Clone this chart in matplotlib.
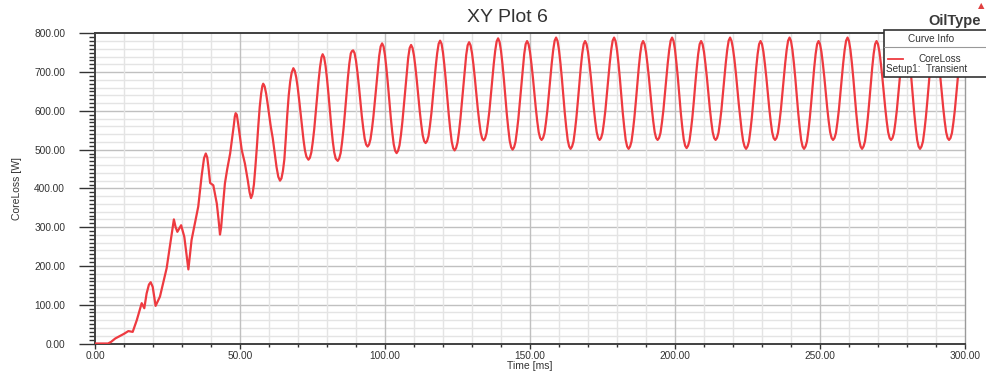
import numpy as np
import matplotlib
matplotlib.use("Agg")
import matplotlib.pyplot as plt
from matplotlib.ticker import MultipleLocator, FormatStrFormatter
from matplotlib.patches import Rectangle
from matplotlib.lines import Line2D

plt.rcParams['font.family'] = ['Liberation Sans', 'DejaVu Sans']

# ---- data ----
# start-up transient, irregular sampling (ms, W)
t_early = [0, 4.5, 5.5, 7, 8.5, 10, 11.5, 13, 14.4, 16.1, 17, 17.8, 18.6, 19.2, 19.9, 20.9,
           22.4, 24.7, 26, 27.2, 27.8, 28.4, 29.7, 30.8, 32.2, 33.3, 35.6, 36.8, 37.6, 38.2,
           38.7, 39.1, 39.7, 40.8, 42, 42.6, 43.1, 43.5, 44, 44.8, 45.6, 46.6, 47.3, 47.9,
           48.2, 48.5, 48.9, 49.4, 50.6, 51.7, 52.7, 53.3, 53.8, 54.3, 54.8, 55.3, 55.8,
           56.3, 56.8, 57.3, 57.7, 58, 58.5, 59, 59.5, 60, 60.6, 61.3, 62, 62.6, 63.2, 63.8,
           64.3, 64.8, 65.3, 65.8, 66.3, 66.8, 67.3, 67.8, 68.4, 68.9, 69.4, 69.9, 70.4,
           70.9, 71.4, 71.9, 72.4, 72.9, 73.6, 74.1, 74.6, 75.1, 75.6, 76.1, 76.6, 77.1,
           77.6, 78.1, 78.5, 79, 79.5, 80, 80.5, 81, 81.5, 82, 82.5, 83, 83.7, 84.2, 84.7,
           85.2, 85.7, 86.2, 86.7, 87.2, 87.7, 88.2, 88.6]
v_early = [0, 0, 4, 13, 19, 25, 32, 30, 60, 104, 91, 129, 152, 158, 146, 97,
           121, 194, 260, 320, 300, 288, 305, 275, 191, 267, 353, 434, 478, 490,
           480, 456, 414, 408, 361, 320, 281, 300, 345, 413, 450, 490, 530, 565,
           585, 594, 590, 565, 499, 464, 420, 390, 375, 385, 410, 455, 505,
           560, 610, 645, 664, 670, 663, 645, 620, 592, 560, 529, 490, 455, 430, 420,
           426, 445, 475, 530, 590, 640, 675, 698, 710, 703, 686, 660, 628,
           593, 557, 525, 498, 482, 474, 479, 493, 520, 553, 594, 637, 678,
           713, 738, 746, 738, 716, 683, 644, 600, 558, 521, 493, 477, 471, 477, 491,
           519, 554, 596, 642, 685, 722, 748, 754]

# steady oscillation, sampled every 0.5 ms from 89 ms to 300 ms (W)
v_late = [756,
          749, 729, 699, 664, 625, 587, 555, 528, 513, 508,   # 89.5-94
          513, 527, 553, 585, 625, 668, 708, 742, 766, 774,   # 94.5-99
          766, 743, 709, 669, 624, 582, 545, 514, 497, 491,   # 99.5-104
          497, 511, 538, 572, 614, 658, 700, 737, 762, 770,   # 104.5-109
          762, 742, 712, 676, 636, 598, 565, 537, 522, 517,   # 109.5-114
          522, 535, 562, 594, 633, 675, 715, 749, 773, 781,   # 114.5-119
          773, 750, 716, 676, 631, 589, 552, 521, 504, 498,   # 119.5-124
          504, 518, 545, 579, 621, 665, 707, 744, 769, 777,   # 124.5-129
          769, 749, 719, 683, 643, 605, 572, 544, 529, 524,   # 129.5-134
          529, 542, 569, 600, 640, 682, 721, 755, 779, 787,   # 134.5-139
          778, 755, 721, 681, 635, 592, 555, 523, 506, 500,   # 139.5-144
          506, 520, 548, 581, 623, 668, 710, 746, 772, 780,   # 144.5-149
          772, 752, 721, 686, 645, 607, 573, 545, 530, 525,   # 149.5-154
          530, 543, 570, 602, 641, 683, 723, 757, 781, 789,   # 154.5-159
          780, 757, 723, 683, 637, 594, 557, 525, 508, 502,   # 159.5-164
          508, 521, 549, 583, 624, 669, 711, 747, 772, 780,   # 164.5-169
          772, 752, 721, 686, 645, 607, 573, 545, 530, 525,   # 169.5-174
          530, 543, 570, 602, 641, 683, 723, 757, 781, 789,   # 174.5-179
          780, 757, 723, 683, 637, 594, 557, 525, 508, 502,   # 179.5-184
          508, 521, 549, 583, 624, 669, 711, 747, 772, 780,   # 184.5-189
          772, 752, 721, 686, 645, 607, 573, 545, 530, 525,   # 189.5-194
          530, 543, 570, 602, 641, 683, 723, 757, 781, 789,   # 194.5-199
          780, 758, 723, 684, 638, 595, 558, 527, 510, 504,   # 199.5-204
          510, 523, 551, 584, 625, 670, 711, 747, 772, 780,   # 204.5-209
          772, 752, 721, 686, 645, 607, 573, 545, 530, 525,   # 209.5-214
          530, 543, 570, 602, 641, 683, 723, 757, 781, 789,   # 214.5-219
          780, 760, 732, 697, 657, 617, 582, 548, 522, 508, 502,  # 219.5-224.5
          508, 521, 549, 583, 624, 669, 711, 747, 772, 780,   # 225-229.5
          772, 752, 721, 686, 645, 607, 573, 545, 530, 525,   # 230-234.5
          530, 543, 570, 602, 641, 683, 723, 757, 781, 789,   # 235-239.5
          780, 757, 723, 683, 637, 594, 557, 525, 508, 502,   # 240-244.5
          508, 521, 549, 583, 624, 669, 711, 747, 772, 780,   # 245-249.5
          772, 752, 721, 686, 645, 607, 573, 545, 530, 525,   # 250-254.5
          530, 543, 570, 602, 641, 683, 723, 757, 781, 789,   # 255-259.5
          780, 757, 723, 683, 637, 594, 557, 525, 508, 502,   # 260-264.5
          508, 521, 549, 583, 624, 669, 711, 747, 772, 780,   # 265-269.5
          772, 752, 721, 686, 645, 607, 573, 545, 530, 525,   # 270-274.5
          530, 543, 570, 602, 641, 683, 723, 757, 781, 789,   # 275-279.5
          780, 757, 723, 683, 637, 594, 557, 525, 508, 502,   # 280-284.5
          508, 521, 549, 583, 624, 669, 711, 747, 772, 780,   # 285-289.5
          772, 752, 721, 686, 645, 607, 573, 545, 530, 525,   # 290-294.5
          530, 543, 570, 602, 641, 683, 723, 757, 781, 789,   # 295-299.5
          787]                                                # 300
t_late = np.arange(89, 300.25, 0.5)

time_ms = list(t_early) + list(t_late)
core_loss = list(v_early) + list(v_late)

x_major = 50
y_major = 100
title = "XY Plot 6"
xlabel = "Time [ms]"
ylabel = "CoreLoss [W]"
legend_title = "Curve Info"
legend_name = "CoreLoss"
legend_setup = "Setup1:  Transient"

# ---- figure ----
W, H = 987, 374
fig = plt.figure(figsize=(W / 100, H / 100), dpi=100)
L, R, T, B = 95, 965, 33.3, 343.5
ax = fig.add_axes([L / W, 1 - B / H, (R - L) / W, (B - T) / H])

ax.set_xlim(0, 300)
ax.set_ylim(0, 800)

# grid
minor_c = '#e4e4e4'
major_c = '#c0c0c0'
for yv in np.arange(20, 800, 20):
    ax.axhline(yv, color=(major_c if yv % 100 == 0 else minor_c), lw=1.0, zorder=0.5)
for xv in np.arange(10, 300, 10):
    ax.axvline(xv, color=(major_c if xv % 50 == 0 else minor_c), lw=1.0, zorder=0.5)

ax.plot(time_ms, core_loss, color='#ee3a40', lw=1.6, zorder=3,
        solid_joinstyle='round', antialiased=True)

ax.xaxis.set_major_locator(MultipleLocator(x_major))
ax.xaxis.set_minor_locator(MultipleLocator(10))
ax.yaxis.set_major_locator(MultipleLocator(y_major))
ax.yaxis.set_minor_locator(MultipleLocator(10))
ax.xaxis.set_major_formatter(FormatStrFormatter('%.2f'))
ax.yaxis.set_major_formatter(FormatStrFormatter('%.2f'))

ax.tick_params(axis='y', which='major', direction='out', length=11.5, width=1.0,
               pad=10, labelsize=7.3, colors='#333333')
ax.tick_params(axis='y', which='minor', direction='out', length=4.5, width=1.0,
               colors='#333333')
ax.tick_params(axis='x', which='major', direction='out', length=3.5, width=1.0,
               pad=2.0, labelsize=7.3, colors='#333333')
ax.tick_params(axis='x', which='minor', direction='out', length=2.5, width=1.0,
               colors='#333333')

for s in ['left', 'bottom', 'top']:
    ax.spines[s].set_color('#404040')
    ax.spines[s].set_linewidth(1.4)
ax.spines['right'].set_color('#9a9a9a')
ax.spines['right'].set_linewidth(1.0)

ax.set_xlabel(xlabel, fontsize=7.5, color='#333333', labelpad=0.0)
ax.set_ylabel(ylabel, fontsize=7.5, color='#333333')
ax.yaxis.set_label_coords(-0.0835, 0.5)

fig.text(507 / W, 1 - 17.5 / H, title, fontsize=14, color='#333333',
         ha='center', va='center')
fig.text(955 / W, 1 - 21.5 / H, "OilType", fontsize=10.5, color='#3a3a3a',
         fontweight='bold', ha='center', va='center')
fig.text(981.5 / W, 1 - 5.5 / H, "\u25B2", fontsize=6, color='#e04040',
         ha='center', va='center', family=['DejaVu Sans'])

# curve info box
bx0, by0, bx1, by1 = 884, 30, 1000, 77
box = Rectangle((bx0 / W, 1 - by1 / H), (bx1 - bx0) / W, (by1 - by0) / H,
                transform=fig.transFigure, facecolor='white', edgecolor='#333333',
                lw=1.2, zorder=5)
fig.add_artist(box)
fig.add_artist(Line2D([bx0 / W, 1.0], [1 - 47 / H, 1 - 47 / H], transform=fig.transFigure,
                      color='#999999', lw=0.8, zorder=6))
fig.text(931 / W, 1 - 39 / H, legend_title, fontsize=7.2, color='#333333',
         ha='center', va='center', zorder=6)
fig.add_artist(Line2D([888 / W, 903 / W], [1 - 59 / H, 1 - 59 / H], transform=fig.transFigure,
                      color='#ee3a40', lw=1.3, zorder=6))
fig.text(940 / W, 1 - 58.5 / H, legend_name, fontsize=7.2, color='#333333',
         ha='center', va='center', zorder=6)
fig.text(886 / W, 1 - 68.5 / H, legend_setup, fontsize=7.2, color='#333333',
         ha='left', va='center', zorder=6)

fig.savefig('out.png', dpi=100)
